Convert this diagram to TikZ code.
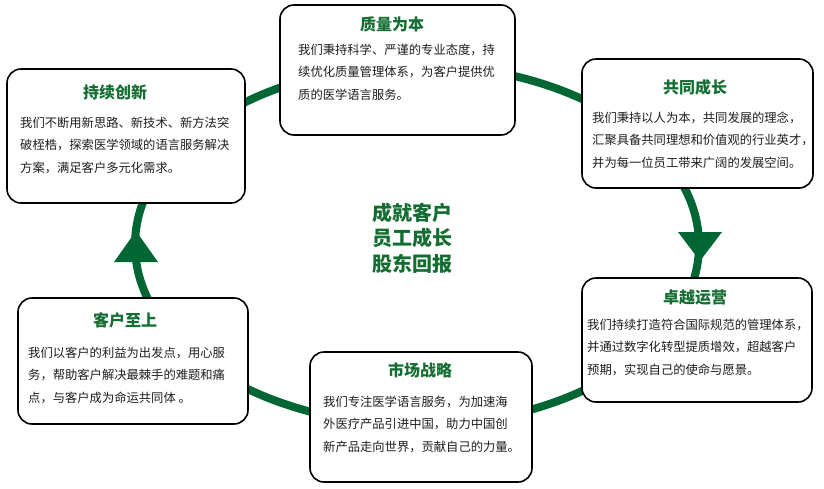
\documentclass[tikz,border=0pt]{standalone}
\usepackage{fontspec}
\setmainfont{Noto Sans CJK SC}
\definecolor{ringgreen}{RGB}{0,102,51}
\definecolor{titlegreen}{RGB}{20,110,50}
\definecolor{bodytext}{RGB}{30,30,30}
\begin{document}
\begin{tikzpicture}[x=1pt,y=-1pt,
  card/.style={draw=black,line width=1.6pt,fill=white,rounded corners=14pt,inner sep=0pt},
  cardtitle/.style={font=\fontsize{16}{18}\selectfont\bfseries,text=titlegreen,inner sep=0pt},
  cardbody/.style={font=\fontsize{12.3}{22.5}\selectfont,text=bodytext,align=left,anchor=west,inner sep=0pt},
  motto/.style={font=\fontsize{20}{25.5}\selectfont\bfseries,text=titlegreen,align=center,inner sep=0pt},
  ring/.style={draw=ringgreen,line width=8pt},
  ringhead/.style={fill=ringgreen}]
\useasboundingbox (0,0) rectangle (824,488);
\fill[white] (0,0) rectangle (824,488);
% ring
\draw[ring] (417,245) ellipse [x radius=282pt, y radius=180pt];
\coordinate (rtip) at (700,261);
\coordinate (ltip) at (136,231);
\fill[ringhead] (678,232) -- (722,232) -- (rtip) -- cycle;
\fill[ringhead] (114,262) -- (158,262) -- (ltip) -- cycle;
% cards
\node[card,minimum width=238pt,minimum height=134pt] (b1) at (126,136) {};
\node[card,minimum width=235pt,minimum height=130pt] (b2) at (397.5,70) {};
\node[card,minimum width=231pt,minimum height=129pt] (b3) at (697.5,123.5) {};
\node[card,minimum width=230pt,minimum height=124pt] (b4) at (697,340) {};
\node[card,minimum width=222pt,minimum height=130pt] (b5) at (421,417) {};
\node[card,minimum width=230pt,minimum height=126pt] (b6) at (133,361) {};
% titles
\node[cardtitle] (t1) at (115,92) {持续创新};
\node[cardtitle] (t2) at (392,24) {质量为本};
\node[cardtitle] (t3) at (695,87) {共同成长};
\node[cardtitle] (t4) at (695,298) {卓越运营};
\node[cardtitle] (t5) at (420,370) {市场战略};
\node[cardtitle] (t6) at (125,320) {客户至上};
% bodies
\node[cardbody] (d1) at (20,145) {我们不断用新思路、新技术、新方法突\\破桎梏，探索医学领域的语言服务解决\\方案，满足客户多元化需求。};
\node[cardbody] (d2) at (298,72) {我们秉持科学、严谨的专业态度，持\\续优化质量管理体系，为客户提供优\\质的医学语言服务。};
\node[cardbody] (d3) at (592,140) {我们秉持以人为本，共同发展的理念，\\汇聚具备共同理想和价值观的行业英才，\\并为每一位员工带来广阔的发展空间。};
\node[cardbody] (d4) at (587,347) {我们持续打造符合国际规范的管理体系，\\并通过数字化转型提质增效，超越客户\\预期，实现自己的使命与愿景。};
\node[cardbody] (d5) at (323,424) {我们专注医学语言服务，为加速海\\外医疗产品引进中国，助力中国创\\新产品走向世界，贡献自己的力量。};
\node[cardbody] (d6) at (28,375) {我们以客户的利益为出发点，用心服\\务，帮助客户解决最棘手的难题和痛\\点，与客户成为命运共同体 。};
% centre
\node[motto] (m) at (412,238) {成就客户\\员工成长\\股东回报};
\end{tikzpicture}
\end{document}
